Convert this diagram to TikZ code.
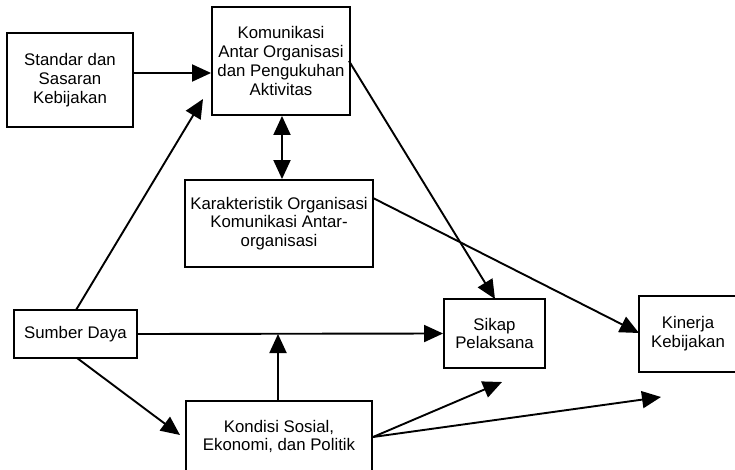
\documentclass[tikz,border=0pt]{standalone}
\usepackage{fontspec}
\setmainfont{Liberation Sans}
\usetikzlibrary{arrows.meta,calc}
\begin{document}
\begin{tikzpicture}[x=1pt,y=-1pt,
  box/.style={draw,line width=1.9pt,align=center,inner sep=0pt,
    font=\fontsize{16.8}{18.7}\selectfont},
  arr/.style={line width=1.9pt,-{Triangle[length=19pt,width=17pt]}},
  darr/.style={line width=1.9pt,{Triangle[length=19pt,width=17pt]}-{Triangle[length=19pt,width=17pt]}}]
\useasboundingbox (0,0) rectangle (735,470);
\node[box,minimum width=126pt,minimum height=94pt] (std) at (70,80) {Standar dan\\Sasaran\\Kebijakan};
\node[box,minimum width=138pt,minimum height=108pt] (kom) at (281,61) {Komunikasi\\Antar Organisasi\\dan Pengukuhan\\Aktivitas};
\node[box,minimum width=188pt,minimum height=87pt] (kar) at (279,223.5) {Karakteristik Organisasi\\Komunikasi Antar-\\organisasi};
\node[box,minimum width=123pt,minimum height=48pt] (sum) at (75.5,334) {Sumber Daya};
\node[box,minimum width=101pt,minimum height=69pt] (sik) at (494.5,333.5) {Sikap\\Pelaksana};
\node[box,minimum width=98pt,minimum height=76pt] (kin) at (688,334) {Kinerja\\Kebijakan};
\node[box,minimum width=186pt,minimum height=71pt] (kon) at (279,436.5) {Kondisi Sosial,\\Ekonomi, dan Politik};
\coordinate (t1) at (203,99);
\coordinate (t2) at (502,382);
\coordinate (t3) at (661,397);
\coordinate (sumtop) at (76,310);
\coordinate (sumbot) at (77,358);
\coordinate (konr) at (373,437);
\coordinate (komr) at (349,61);
\coordinate (karr) at (373,198);
\coordinate (konjoin) at (278,334);
\coordinate (siktop) at (495,299);
\coordinate (kinl) at (639,333);
\coordinate (konl) at (180,435);
\draw[arr] (std.east |- 0,73) -- (kom.west |- 0,73);
\draw[arr] (sumtop) -- (t1);
\draw[darr] (kom.south -| 282,0) -- (kar.north -| 282,0);
\draw[arr] (komr) -- (siktop);
\draw[arr] (karr) -- (kinl);
\draw[arr] (sum.east) -- (sik.west);
\draw[arr] (kon.north -| konjoin) -- (konjoin);
\draw[arr] (sumbot) -- (konl);
\draw[arr] (konr) -- (t2);
\draw[arr] (konr) -- (t3);
\end{tikzpicture}
\end{document}
